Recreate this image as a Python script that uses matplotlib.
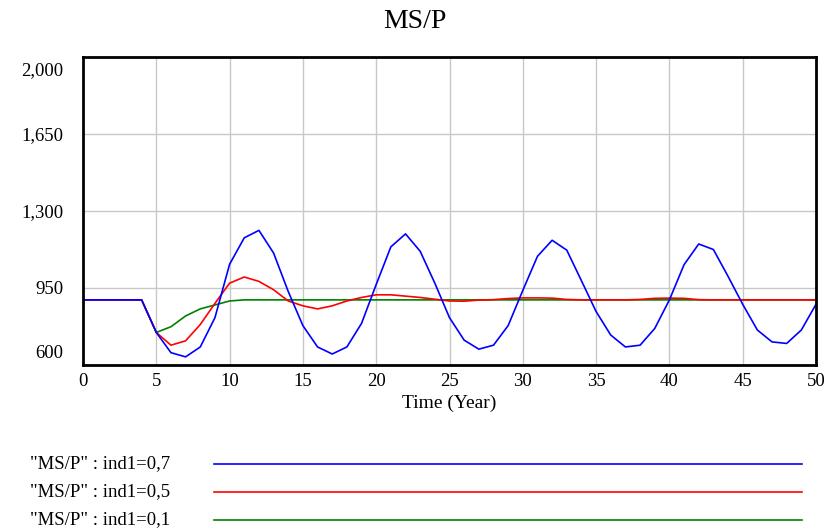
import matplotlib
matplotlib.use("Agg")
from matplotlib import pyplot as plt
from matplotlib.lines import Line2D
from matplotlib.transforms import ScaledTranslation

plt.rcParams['font.family'] = ['Liberation Serif', 'DejaVu Serif']

time = list(range(51))
ms_p_07 = [896, 896, 896, 896, 896, 748, 656, 637, 682, 815,
           1058, 1178, 1212, 1109, 934, 779, 682, 650, 682, 789,
           966, 1137, 1196, 1117, 972, 815, 713, 672, 690, 779,
           939, 1094, 1167, 1122, 983, 843, 736, 682, 690, 766,
           896, 1056, 1150, 1125, 1003, 876, 759, 705, 698, 759, 876]
ms_p_05 = [896, 896, 896, 896, 896, 748, 690, 710, 784, 880,
           972, 1000, 980, 942, 891, 869, 855, 869, 891, 907,
           919, 919, 913, 907, 899, 891, 890, 895, 897, 902,
           905, 905, 904, 898, 896, 896, 896, 896, 898, 903,
           904, 903, 897, 896, 896, 896, 896, 896, 896, 896, 896]
ms_p_01 = [896, 896, 896, 896, 896, 748, 774, 823, 855, 873,
           891] + [896] * 40

labels = ['"MS/P" : ind1=0,7', '"MS/P" : ind1=0,5', '"MS/P" : ind1=0,1']
colors = ['#0000ff', '#ff0000', '#008000']
yticks = [600, 950, 1300, 1650, 2000]
xticks = list(range(0, 51, 5))

fig = plt.figure(figsize=(8.30, 5.31), dpi=100)
ax = fig.add_axes([83 / 830, 1 - 365 / 531, (816 - 83) / 830, (365 - 57) / 531])

ax.plot(time, ms_p_01, color=colors[2], lw=1.2)
ax.plot(time, ms_p_05, color=colors[1], lw=1.2)
ax.plot(time, ms_p_07, color=colors[0], lw=1.2)

ax.set_xlim(0, 50)
ax.set_ylim(600, 2000)
ax.set_xticks(xticks)
ax.set_yticks(yticks)
ax.set_yticklabels(['{:,}'.format(v) for v in yticks])
ax.grid(True, color='#c8c8c8', lw=1)
ax.tick_params(length=0, labelsize=13.5)
ax.tick_params(axis='y', pad=14)
ax.tick_params(axis='x', pad=6)
for s in ax.spines.values():
    s.set_linewidth(2)
    s.set_color('black')

# vensim pulls the end labels inside the axis range
ylabs = ax.get_yticklabels()
ylabs[0].set_transform(ylabs[0].get_transform() + ScaledTranslation(0, 0.14, fig.dpi_scale_trans))
ylabs[-1].set_transform(ylabs[-1].get_transform() + ScaledTranslation(0, -0.12, fig.dpi_scale_trans))

ax.set_xlabel('Time (Year)', fontsize=14, labelpad=3)
fig.text(0.5, 1 - 21 / 531, 'MS/P', ha='center', va='center', fontsize=20)

# legend rows under the chart
for i, (lab, c) in enumerate(zip(labels, colors)):
    yy = 1 - (464 + 28 * i) / 531
    fig.text(30 / 830, yy, lab, ha='left', va='center', fontsize=13.5)
    fig.add_artist(Line2D([214 / 830, 802 / 830], [yy, yy], color=c, lw=1.2,
                          transform=fig.transFigure))

fig.savefig('out.png', dpi=100)
